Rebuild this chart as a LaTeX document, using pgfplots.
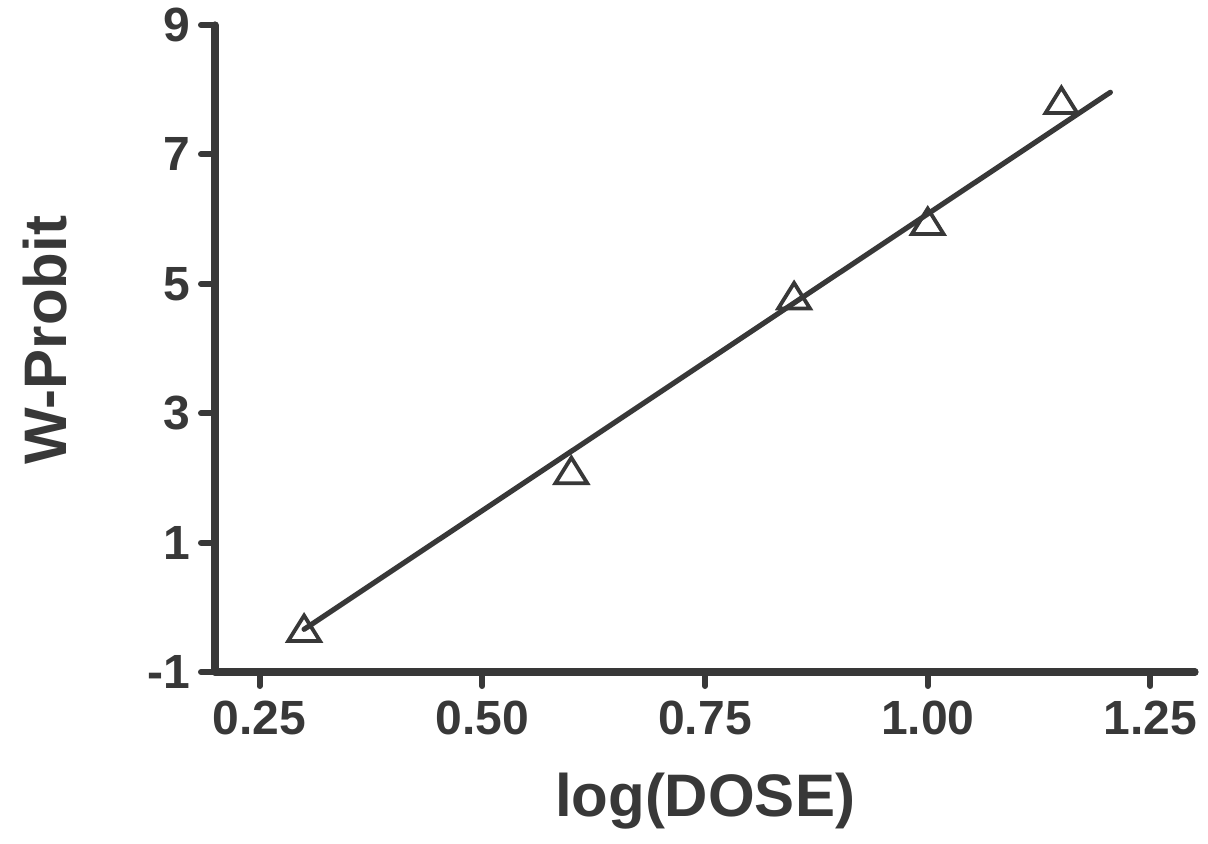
\documentclass[border=0pt]{standalone}
\usepackage{pgfplots}
\pgfplotsset{compat=1.18}
\usepackage{fontspec}
\setmainfont{Liberation Sans}
\definecolor{ink}{HTML}{383838}
\begin{document}
\begin{tikzpicture}
\begin{axis}[
  at={(0,0)}, anchor=south west,
  scale only axis, width=490pt, height=323.5pt,
  xmin=0.2, xmax=1.3, ymin=-1, ymax=9,
  axis lines=left, axis line style={line width=3.6pt, ink, -, line cap=round},
  xtick={0.25,0.5,0.75,1.0,1.25},
  xticklabels={0.25,0.50,0.75,1.00,1.25},
  ytick={-1,1,3,5,7,9},
  yticklabels={-1,1,3,5,7,9},
  tick align=outside, major tick length=7pt,
  tick style={line width=3pt, ink, line cap=round},
  x tick label style={font=\fontsize{24}{24}\selectfont\bfseries, text=ink, yshift=-4pt},
  y tick label style={font=\fontsize{24}{24}\selectfont\bfseries, text=ink, xshift=-2pt},
  xlabel={log(DOSE)}, ylabel={W-Probit},
  xlabel style={font=\fontsize{30}{30}\selectfont\bfseries, text=ink, at={(axis description cs:0.5,-0.2)}, anchor=center},
  ylabel style={font=\fontsize{30}{30}\selectfont\bfseries, text=ink, at={(axis description cs:-0.1735,0.513)}, anchor=center},
  clip=false,
]
\addplot[only marks, mark=triangle, mark size=8.5pt, mark options={line width=1.9pt, draw=ink, fill=white, xscale=1.08}]
  coordinates {(0.30,-0.39) (0.60,2.05) (0.85,4.75) (1.00,5.90) (1.15,7.77)};
\addplot[ink, line width=2.6pt, line cap=round, no marks]
  coordinates {(0.30,-0.34) (1.205,7.96)};
\end{axis}
\pgfresetboundingbox
\useasboundingbox (-107.5pt,-85.5pt) rectangle (496.5pt,336pt);
\end{tikzpicture}
\end{document}
